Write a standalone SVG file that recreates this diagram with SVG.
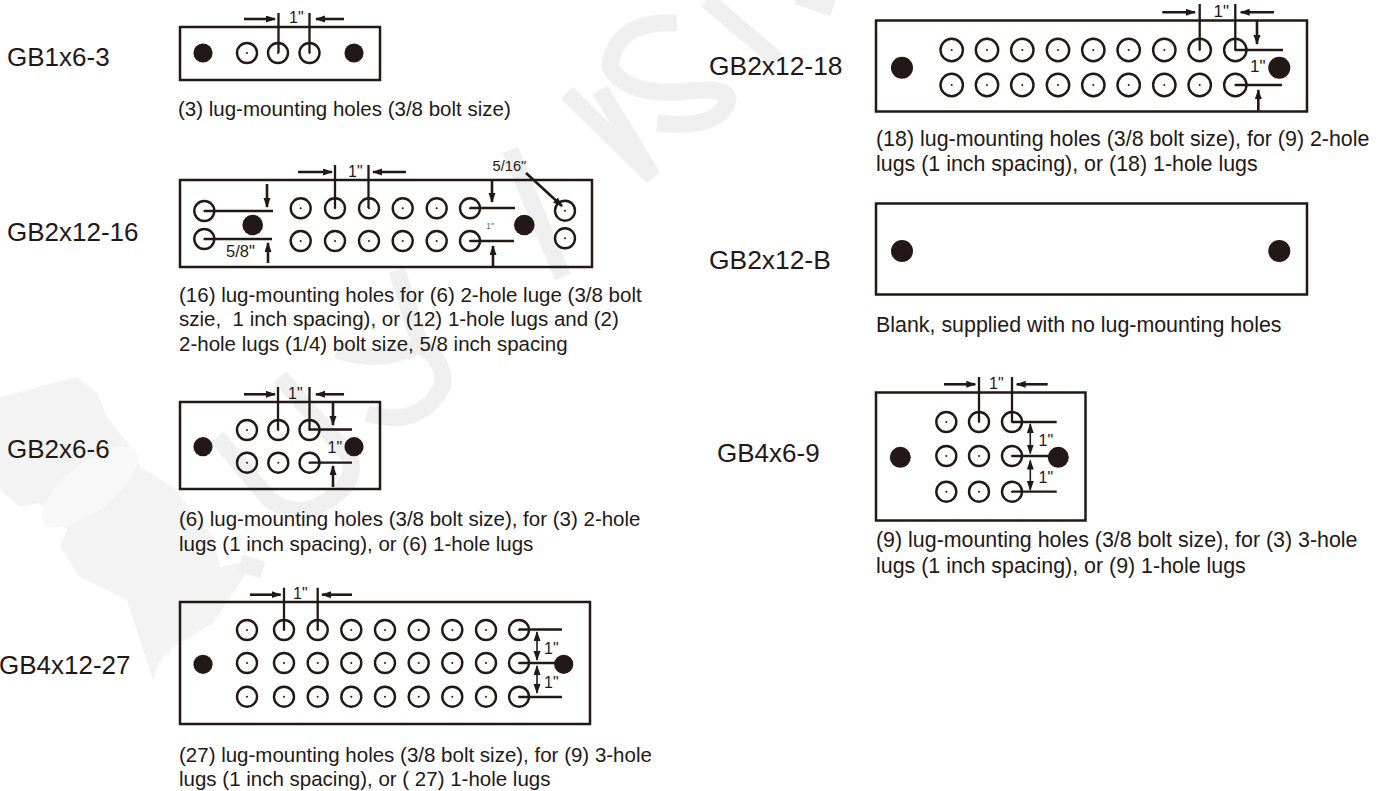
<svg xmlns="http://www.w3.org/2000/svg" xmlns:xlink="http://www.w3.org/1999/xlink" width="1383" height="791" viewBox="0 0 1383 791">
<style>
text{font-family:"Liberation Sans",Arial,sans-serif;fill:#231815}
.lb{font-size:26px}
.lr{font-size:26.4px}
.cp{font-size:20.5px}
.cr{font-size:21.4px}
.dm{font-size:16px}
.pl{fill:none;stroke:#231815;stroke-width:2.5}
.bk{fill:#231815}
.ln{stroke:#231815;stroke-width:2.3;fill:none}
.ar{stroke:#231815;stroke-width:2.6;fill:none;marker-end:url(#a)}
.ad{stroke:#231815;stroke-width:1.6;fill:none;marker-end:url(#a);marker-start:url(#a)}
.wm{fill:none;stroke:#efefef;stroke-width:17}
</style>
<defs>
<marker id="a" markerUnits="userSpaceOnUse" markerWidth="11" markerHeight="8" refX="9" refY="3.5" orient="auto-start-reverse"><path d="M0 0L10 3.5L0 7Z" fill="#231815"/></marker>
<g id="h"><circle r="10" fill="none" stroke="#231815" stroke-width="2.4"/><circle r="1" fill="#231815"/></g>
<g id="H"><circle r="11.2" fill="none" stroke="#231815" stroke-width="2.4"/><circle r="1" fill="#231815"/></g>
</defs>
<rect width="1383" height="791" fill="#fff"/>
<g id="watermark">
<path d="M0 397L77 377L97 393L107 417L133 450L140 467L173 487L213 537L220 567L253 560L240 583L213 623L173 647L160 660L153 680L127 600L80 577L60 547L67 530L40 503L20 507L0 490Z" fill="#f3f3f3"/>
<ellipse cx="90" cy="487" rx="58" ry="24" transform="rotate(-38 90 487)" fill="#f8f8f8"/>
<path class="wm" d="M217 437L270 500Q300 520 323 503Q358 485 350 457L280 377"/>
<path class="wm" d="M367 413Q420 430 443 385Q445 360 420 345L397 270"/>
<path class="wm" d="M337 350Q380 365 420 345"/>
<path class="wm" d="M240 563L263 570"/>
<path class="wm" d="M510 150L563 277"/>
<path class="wm" d="M567 93L653 177L600 90"/>
<path class="wm" d="M677 23Q615 20 610 67Q625 95 680 92Q735 85 727 103Q715 130 657 123"/>
<path class="wm" d="M707 0L777 60"/>
<path class="wm" d="M797 -4L833 8"/>
</g>
<g id="node-GB1x6-3">
<text class="lb" x="7" y="66">GB1x6-3</text>
<rect class="pl" x="180" y="27" width="200" height="53"/>
<circle class="bk" cx="203" cy="53" r="9.6"/><circle class="bk" cx="354" cy="53" r="9.6"/>
<use href="#h" x="247" y="53"/><use href="#h" x="278" y="53"/><use href="#h" x="309.5" y="53"/>
<text class="dm" x="289" y="23">1"</text>
<text class="cp" x="178" y="116">(3) lug-mounting holes (3/8 bolt size)</text>
</g>
<g id="node-GB2x12-16">
<text class="lb" x="7" y="241">GB2x12-16</text>
<rect class="pl" x="180" y="180" width="412" height="87"/>
<circle class="bk" cx="252.7" cy="225" r="10.3"/><circle class="bk" cx="524.3" cy="225" r="10.3"/>
<use href="#h" x="204.3" y="211"/><use href="#h" x="204.3" y="239"/>
<use href="#h" x="300.7" y="208.3"/><use href="#h" x="335" y="208.3"/><use href="#h" x="369" y="208.3"/><use href="#h" x="402.7" y="208.3"/><use href="#h" x="436.7" y="208.3"/><use href="#h" x="470" y="208.3"/>
<use href="#h" x="300.7" y="241"/><use href="#h" x="335" y="241"/><use href="#h" x="369" y="241"/><use href="#h" x="402.7" y="241"/><use href="#h" x="436.7" y="241"/><use href="#h" x="470" y="241"/>
<use href="#h" x="565" y="210.7"/><use href="#h" x="565" y="238.3"/>
<text class="dm" x="348" y="177">1"</text>
<text class="dm" x="492.5" y="171" style="font-size:14.7px">5/16"</text>
<text class="dm" x="226" y="257" style="font-size:16.5px">5/8"</text>
<text x="486" y="229" font-size="9" style="fill:#6f6f6f">1"</text>
<text class="cp" x="179" y="302">(16) lug-mounting holes for (6) 2-hole luge (3/8 bolt</text>
<text class="cp" x="179" y="326" xml:space="preserve">szie,  1 inch spacing), or (12) 1-hole lugs and (2)</text>
<text class="cp" x="179" y="351">2-hole lugs (1/4) bolt size, 5/8 inch spacing</text>
</g>
<g id="node-GB2x6-6">
<text class="lb" x="7" y="458">GB2x6-6</text>
<rect class="pl" x="180" y="402" width="200" height="87"/>
<circle class="bk" cx="203" cy="446.7" r="9.6"/><circle class="bk" cx="354" cy="446.7" r="9.6"/>
<use href="#h" x="247" y="430"/><use href="#h" x="278.3" y="430"/><use href="#h" x="309.5" y="430"/>
<use href="#h" x="247" y="462.7"/><use href="#h" x="278.3" y="462.7"/><use href="#h" x="309.5" y="462.7"/>
<text class="dm" x="288" y="399">1"</text>
<text class="dm" x="327.5" y="453">1"</text>
<text class="cp" x="179" y="526">(6) lug-mounting holes (3/8 bolt size), for (3) 2-hole</text>
<text class="cp" x="179" y="551">lugs (1 inch spacing), or (6) 1-hole lugs</text>
</g>
<g id="node-GB4x12-27">
<text class="lb" x="-1" y="674">GB4x12-27</text>
<rect class="pl" x="180" y="602" width="410" height="122"/>
<circle class="bk" cx="203" cy="664.3" r="9.6"/><circle class="bk" cx="563.7" cy="664.3" r="9.6"/>
<use href="#h" x="247" y="630"/><use href="#h" x="284" y="630"/><use href="#h" x="317.7" y="630"/><use href="#h" x="351.3" y="630"/><use href="#h" x="385" y="630"/><use href="#h" x="418.7" y="630"/><use href="#h" x="452.3" y="630"/><use href="#h" x="486" y="630"/><use href="#h" x="519" y="630"/>
<use href="#h" x="247" y="663"/><use href="#h" x="284" y="663"/><use href="#h" x="317.7" y="663"/><use href="#h" x="351.3" y="663"/><use href="#h" x="385" y="663"/><use href="#h" x="418.7" y="663"/><use href="#h" x="452.3" y="663"/><use href="#h" x="486" y="663"/><use href="#h" x="519" y="663"/>
<use href="#h" x="247" y="696.7"/><use href="#h" x="284" y="696.7"/><use href="#h" x="317.7" y="696.7"/><use href="#h" x="351.3" y="696.7"/><use href="#h" x="385" y="696.7"/><use href="#h" x="418.7" y="696.7"/><use href="#h" x="452.3" y="696.7"/><use href="#h" x="486" y="696.7"/><use href="#h" x="519" y="696.7"/>
<text class="dm" x="293" y="599">1"</text>
<text class="dm" x="544" y="654">1"</text>
<text class="dm" x="544" y="688">1"</text>
<text class="cp" x="179" y="762">(27) lug-mounting holes (3/8 bolt size), for (9) 3-hole</text>
<text class="cp" x="179" y="786">lugs (1 inch spacing), or ( 27) 1-hole lugs</text>
</g>
<g id="node-GB2x12-18">
<text class="lr" x="709" y="75">GB2x12-18</text>
<rect class="pl" x="876" y="20.5" width="431" height="91"/>
<circle class="bk" cx="902" cy="67.7" r="11"/><circle class="bk" cx="1279.3" cy="67.7" r="11"/>
<use href="#H" x="951.7" y="50"/><use href="#H" x="987" y="50"/><use href="#H" x="1022.3" y="50"/><use href="#H" x="1058" y="50"/><use href="#H" x="1093.3" y="50"/><use href="#H" x="1128.7" y="50"/><use href="#H" x="1164.3" y="50"/><use href="#H" x="1199.7" y="50"/><use href="#H" x="1235.3" y="50"/>
<use href="#H" x="951.7" y="85"/><use href="#H" x="987" y="85"/><use href="#H" x="1022.3" y="85"/><use href="#H" x="1058" y="85"/><use href="#H" x="1093.3" y="85"/><use href="#H" x="1128.7" y="85"/><use href="#H" x="1164.3" y="85"/><use href="#H" x="1199.7" y="85"/><use href="#H" x="1235.3" y="85"/>
<text class="dm" x="1213.5" y="17" style="font-size:17px">1"</text>
<text class="dm" x="1250" y="72" style="font-size:17px">1"</text>
<text class="cr" x="876" y="146">(18) lug-mounting holes (3/8 bolt size), for (9) 2-hole</text>
<text class="cr" x="876" y="171">lugs (1 inch spacing), or (18) 1-hole lugs</text>
</g>
<g id="node-GB2x12-B">
<text class="lr" x="709" y="269">GB2x12-B</text>
<rect class="pl" x="876" y="203.5" width="431" height="91"/>
<circle class="bk" cx="902" cy="251" r="11"/><circle class="bk" cx="1279.3" cy="251" r="11"/>
<text class="cr" x="876" y="332">Blank, supplied with no lug-mounting holes</text>
</g>
<g id="node-GB4x6-9">
<text class="lb" x="717" y="462">GB4x6-9</text>
<rect class="pl" x="876" y="392.5" width="209.5" height="128"/>
<circle class="bk" cx="900.3" cy="457.3" r="10.5"/><circle class="bk" cx="1058.3" cy="457.3" r="10.5"/>
<use href="#h" x="946.3" y="422"/><use href="#h" x="979" y="422"/><use href="#h" x="1012" y="422"/>
<use href="#h" x="946.3" y="456"/><use href="#h" x="979" y="456"/><use href="#h" x="1012" y="456"/>
<use href="#h" x="946.3" y="491.7"/><use href="#h" x="979" y="491.7"/><use href="#h" x="1012" y="491.7"/>
<text class="dm" x="989" y="389">1"</text>
<text class="dm" x="1038.5" y="446">1"</text>
<text class="dm" x="1038.5" y="483">1"</text>
<text class="cr" x="876" y="547">(9) lug-mounting holes (3/8 bolt size), for (3) 3-hole</text>
<text class="cr" x="876" y="573">lugs (1 inch spacing), or (9) 1-hole lugs</text>
</g>
<g id="connectors">
<path class="ln" d="M278.5 13V52.7M309.5 13V52.7"/>
<path class="ar" d="M244 19H275"/><path class="ar" d="M344 19H316"/>
<path class="ln" d="M335 165V208M368.5 165V208"/>
<path class="ar" d="M298 172H332"/><path class="ar" d="M406 172H373"/>
<path class="ln" d="M204 211H273M204 239H272M470 208H515M470 241H514"/>
<path class="ar" d="M267 184V207"/><path class="ar" d="M268 263V243"/>
<path class="ar" d="M492 181V202"/><path class="ar" d="M493 266V246"/>
<path class="ar" d="M526 173L562 206"/>
<path class="ln" d="M278 387V430M309.5 387V430M309.5 429.5H352M309.5 462.7H352"/>
<path class="ar" d="M244 394.3H275"/><path class="ar" d="M344 394.3H316"/>
<path class="ar" d="M333 403V425"/><path class="ar" d="M333 487V466"/>
<path class="ln" d="M284 587.7V630M317.7 587.7V630M519 629.5H562M519 663H563M519 697H562"/>
<path class="ar" d="M250 594.7H280.7"/><path class="ar" d="M352 594.7H322"/>
<path class="ad" d="M537 632V660"/><path class="ad" d="M537 666V693"/>
<path class="ln" d="M1199.7 4V50M1235.3 4V50M1235.3 50H1283M1235.3 85H1282"/>
<path class="ar" d="M1162.3 12.3H1195"/><path class="ar" d="M1274 12.3H1240.7"/>
<path class="ar" d="M1257 20.7V44"/><path class="ar" d="M1258.3 110.7V90"/>
<path class="ln" d="M979 377V422M1012 377V422M1012 422H1056.7M1012 456H1058M1012 491.7H1056.7"/>
<path class="ar" d="M944 384.3H975.3"/><path class="ar" d="M1047.7 384.3H1016.7"/>
<path class="ad" d="M1030.3 424V453.5"/><path class="ad" d="M1030.3 460.5V490"/>
</g>
</svg>
